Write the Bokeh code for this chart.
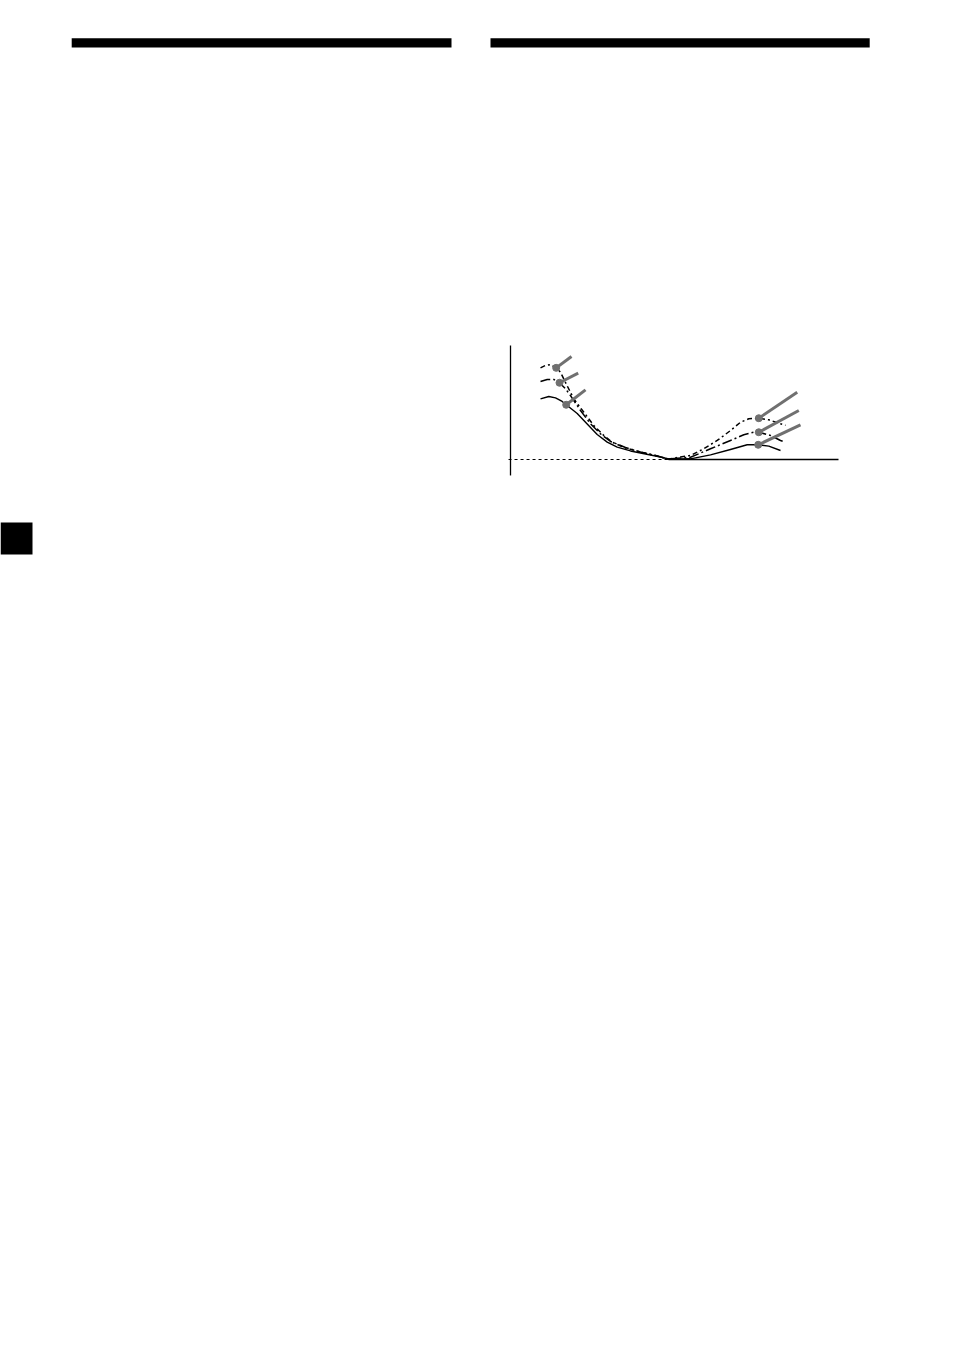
from bokeh.plotting import figure
from bokeh.models import Range1d
from bokeh.embed import file_html
from bokeh.resources import INLINE

# ---- chart data (x: relative frequency position 0..100, y: boost level) ----
top_x = [9.15, 10.67, 12.20, 13.93, 15.24, 17.07, 19.30, 22.35, 25.40, 28.45, 31.01, 35.06, 39.63,
         44.21, 48.17, 51.83, 54.88, 58.93, 63.02, 67.07, 70.12, 72.65, 75.70, 78.75, 82.32, 83.84]
top_y = [8.04, 8.25, 8.33, 8.04, 7.66, 6.58, 5.32, 4.15, 2.98, 2.11, 1.52, 1.01, 0.66,
         0.35, 0.04, 0.22, 0.35, 0.94, 1.67, 2.54, 3.27, 3.57, 3.62, 3.48, 3.13, 3.00]

mid_x = [9.15, 11.19, 13.20, 14.94, 16.77, 18.29, 21.34, 24.39, 27.44, 30.49, 35.06, 39.63,
         44.21, 48.17, 51.83, 54.88, 60.98, 67.07, 71.13, 74.18, 75.70, 79.27, 82.32, 83.54]
mid_y = [6.84, 7.02, 7.02, 6.73, 6.20, 5.61, 4.30, 3.13, 2.25, 1.58, 1.05, 0.66,
         0.35, 0.04, 0.13, 0.20, 0.94, 1.67, 2.17, 2.39, 2.39, 2.11, 1.67, 1.54]

low_x = [9.15, 11.68, 13.72, 15.76, 16.98, 18.81, 20.34, 23.38, 26.43, 29.48, 32.53, 36.59,
         41.16, 45.73, 48.17, 51.83, 54.88, 60.98, 67.07, 72.16, 75.52, 78.75, 82.32]
low_y = [5.32, 5.53, 5.41, 5.09, 4.80, 4.39, 4.04, 3.11, 2.19, 1.52, 1.08, 0.75,
         0.48, 0.22, 0.04, 0.04, 0.06, 0.41, 0.88, 1.29, 1.29, 1.17, 0.79]

# adjustment points (dots) and knob ends
dot_x = [13.93, 14.94, 16.98, 75.70, 75.70, 75.52]
dot_y = [8.04, 6.73, 4.80, 3.62, 2.39, 1.29]
knob_x = [18.60, 20.64, 22.87, 87.41, 87.90, 88.41]
knob_y = [9.04, 7.57, 6.11, 5.90, 4.30, 3.04]

# axes of the small chart
yaxis_x = [0, 0]
yaxis_y = [-1.40, 10.0]
base_dash_x = [-0.6, 48.17]
base_solid_x = [48.17, 100.0]
base_y = [0, 0]

# ---- page layout (page pixel coordinates) ----
W, H = 938, 1335
p = figure(width=W, height=H, x_range=Range1d(0, W), y_range=Range1d(H, 0),
           output_backend="svg", toolbar_location=None, min_border=0,
           x_axis_type=None, y_axis_type=None)
p.grid.visible = False
p.outline_line_color = None
p.background_fill_color = "white"
p.border_fill_color = "white"

# header bars and side tab
p.quad(left=[71.2, 490], right=[451, 869.2], top=[37.7, 37.7], bottom=[47, 47],
       fill_color="black", line_color=None)
p.quad(left=[0], right=[32], top=[522], bottom=[554], fill_color="black", line_color=None)

# chart scale: x 0..100 -> page 510..838 px, y 0 -> page 459 px, 11.4 px/unit
sx, ox = 3.28, 510
sy, oy = 11.4, 459
p.extra_x_ranges = {"cx": Range1d((0 - ox) / sx, (W - ox) / sx)}
p.extra_y_ranges = {"cy": Range1d((oy - H) / sy, (oy - 0) / sy)}
kw = dict(x_range_name="cx", y_range_name="cy")

p.line(yaxis_x, yaxis_y, line_color="black", line_width=1.3, **kw)
p.line(base_dash_x, base_y, line_color="black", line_width=1.2, line_dash="3 3", **kw)
p.line(base_solid_x, base_y, line_color="black", line_width=1.4, **kw)

p.line(low_x, low_y, line_color="black", line_width=1.4, line_join="round", **kw)
p.line(mid_x, mid_y, line_color="black", line_width=1.5, line_dash="10 3 2 3", line_join="round", **kw)
p.line(top_x, top_y, line_color="black", line_width=1.5, line_dash="5 3 2 3", line_join="round", **kw)

p.segment(x0=dot_x, y0=dot_y, x1=knob_x, y1=knob_y, line_color="#707070", line_width=3, **kw)
p.scatter(dot_x, dot_y, size=7, fill_color="#707070", line_color="#707070", **kw)

open("out.html", "w").write(file_html(p, INLINE))
